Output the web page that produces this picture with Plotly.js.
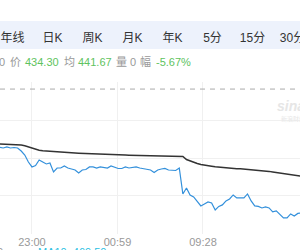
<!DOCTYPE html>
<html>
<head>
<meta charset="utf-8">
<script src="https://cdn.plot.ly/plotly-3.0.1.min.js"></script>
<style>
  html, body { margin: 0; padding: 0; background: #fff; }
  #wrap { position: relative; width: 300px; height: 250px; overflow: hidden; font-family: Arial, "Liberation Sans", "Noto Sans CJK SC", sans-serif; }
  #chart { position: absolute; left: 0; top: 0; width: 300px; height: 250px; }
  .ov { position: absolute; white-space: nowrap; pointer-events: none; line-height: 12px; }
  #bar { position: absolute; left: 0; top: 21px; width: 300px; height: 28px; background: #edf2fc; }
  .tab { width: 40px; text-align: center; font-size: 12px; color: #333; top: 32px; }
  .info { font-size: 11px; top: 56px; }
  .g { color: #999; }
  .up { color: #5ec35e; }
</style>
</head>
<body>
<div id="wrap">
  <div id="chart"></div>
  <div id="bar"></div>
  <div id="tabs"></div>
  <div id="info"></div>
  <div class="ov" style="left:277px;top:100px;font-size:14px;font-weight:bold;font-style:italic;color:#e6e6e6;">sina</div>
  <div class="ov" style="left:281px;top:113px;font-size:6px;color:#e8e8e8;">新浪财经</div>
  <div class="ov" style="left:-3px;top:246px;font-size:11px;color:#999;">0</div>
  <div class="ov" id="ma" style="left:38px;top:246px;font-size:11px;color:#2bbfe3;"></div>
</div>
<script>
// ---- data ----
const tabLabels = ["年线", "日K", "周K", "月K", "年K", "5分", "15分", "30分"];
const lastPrice = 434.30;
const avgPrice = 441.67;
const volume = 0;
const changePct = -5.67;
const prevClose = 460.40;
const ma10 = 469.50;

const tickLabels = ["23:00", "00:59", "09:28"];

// trading minutes since 21:00 of the first sample, and the sampling step (minutes)
const startMinute = 75;
const stepMinutes = 5;

const price = [
  448.12, 447.98, 448.19, 447.98, 448.08, 447.98, 447.34, 446.50, 445.03, 443.98,
  444.29, 445.45, 445.03, 444.61, 444.82, 442.92, 443.76, 443.76, 444.19, 443.76,
  443.55, 443.34, 442.71, 443.34, 443.45, 443.98, 443.98, 443.76, 443.98, 443.81,
  443.76, 444.19, 443.98, 443.66, 443.66, 443.98, 443.76, 443.87, 443.98, 443.76,
  443.66, 443.45, 443.34, 442.82, 443.34, 443.55, 443.66, 443.34, 443.24, 443.24,
  443.76, 438.29, 439.55, 438.08, 437.66, 436.82, 435.76, 436.19, 436.61, 436.40,
  434.92, 435.66, 435.98, 436.82, 437.24, 438.08, 437.45, 437.45, 437.45, 438.29,
  436.82, 435.76, 435.66, 435.34, 435.55, 435.34, 434.50, 434.71, 433.87, 433.24,
  433.24, 434.08, 433.66, 434.19, 434.29
];

const avgLine = [
  448.82, 448.80, 448.76, 448.74, 448.69, 448.65, 448.59, 448.46, 448.23, 447.89,
  447.66, 447.52, 447.41, 447.34, 447.28, 447.22, 447.15, 447.09, 447.03, 446.99,
  446.94, 446.90, 446.86, 446.82, 446.78, 446.74, 446.69, 446.65, 446.63, 446.61,
  446.59, 446.57, 446.55, 446.53, 446.50, 446.48, 446.46, 446.45, 446.44, 446.42,
  446.41, 446.40, 446.39, 446.38, 446.37, 446.36, 446.34, 446.33, 446.32, 446.31,
  446.29, 446.19, 445.55, 445.24, 445.03, 444.71, 444.48, 444.33, 444.23, 444.14,
  444.04, 443.95, 443.87, 443.81, 443.72, 443.66, 443.62, 443.58, 443.53, 443.49,
  443.45, 443.37, 443.28, 443.22, 443.13, 443.05, 442.94, 442.84, 442.67, 442.57,
  442.44, 442.31, 442.21, 442.12, 442.04
];

// ---- helpers ----
function tradeMinute(label) {
  const [h, m] = label.split(":").map(Number);
  if (h >= 21) return (h - 21) * 60 + m;
  if (h < 3) return (h + 3) * 60 + m;
  return 330 + (h - 9) * 60 + m;
}
const xs = price.map((_, i) => startMinute + i * stepMinutes);
const tickVals = tickLabels.map(tradeMinute);

// header
const tabsEl = document.getElementById("tabs");
tabLabels.forEach((t, i) => {
  const d = document.createElement("div");
  d.className = "ov tab";
  d.style.left = (-7.5 + 40 * i) + "px";
  d.textContent = t;
  tabsEl.appendChild(d);
});
const infoParts = [
  ["0", "g", -1], ["价", "g", 10], [lastPrice.toFixed(2), "up", 25],
  ["均", "g", 64], [avgPrice.toFixed(2), "up", 78],
  ["量", "g", 116], [String(volume), "g", 130],
  ["幅", "g", 140], [changePct.toFixed(2) + "%", "up", 156]
];
const infoEl = document.getElementById("info");
infoParts.forEach(([t, c, l]) => {
  const d = document.createElement("div");
  d.className = "ov info " + c;
  d.style.left = l + "px";
  d.textContent = t;
  infoEl.appendChild(d);
});
document.getElementById("ma").textContent = "MA10: " + ma10.toFixed(2);

const traces = [
  { x: xs, y: avgLine, type: "scatter", mode: "lines", line: { color: "#333", width: 1.5 }, hoverinfo: "skip" },
  { x: xs, y: price, type: "scatter", mode: "lines", line: { color: "#3390db", width: 1.2 }, hoverinfo: "skip" }
];

const layout = {
  width: 300, height: 250,
  margin: { l: 0, r: 0, t: 82, b: 16, pad: 0 },
  paper_bgcolor: "rgba(0,0,0,0)", plot_bgcolor: "#fff",
  showlegend: false,
  font: { family: 'Arial, "Liberation Sans", "Noto Sans CJK SC", sans-serif' },
  xaxis: {
    range: [75.5, 493], tickvals: tickVals, ticktext: tickLabels,
    showgrid: true, gridcolor: "#f0f0f0", gridwidth: 1,
    zeroline: false, showline: false, ticks: "",
    tickfont: { size: 11, color: "#999" }, fixedrange: true
  },
  yaxis: {
    range: [429.85, 461.89], tick0: 429.87, dtick: 8, tickmode: "linear",
    showgrid: true, gridcolor: "#f0f0f0", gridwidth: 1,
    zeroline: false, showline: false, showticklabels: false, ticks: "", fixedrange: true
  },
  shapes: [{
    type: "line", xref: "paper", x0: 0, x1: 1, yref: "y", y0: prevClose, y1: prevClose,
    line: { color: "#aaa", width: 1, dash: "5px,5px" }
  }]
};

Plotly.newPlot("chart", traces, layout, { staticPlot: true, displayModeBar: false });
</script>
</body>
</html>
